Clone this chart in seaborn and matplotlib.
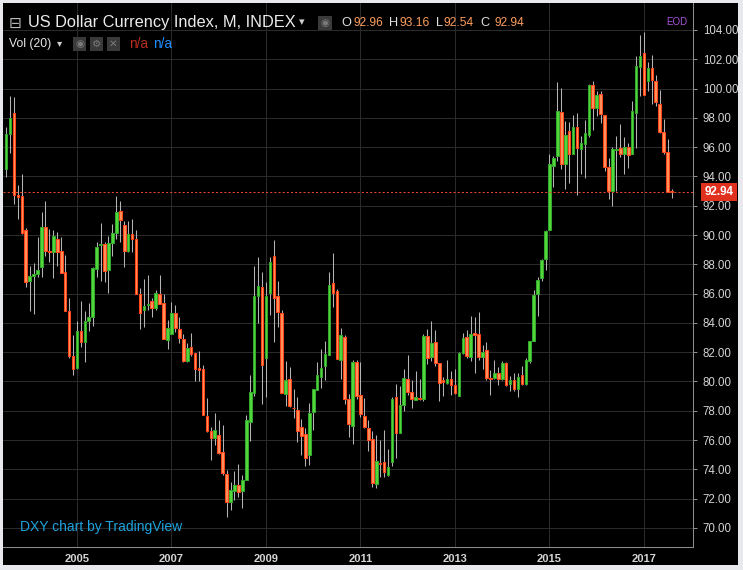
import numpy as np
import pandas as pd
import matplotlib
matplotlib.use("Agg")
import matplotlib.pyplot as plt
import matplotlib.transforms as mtransforms
from matplotlib.patches import Rectangle
import seaborn as sns

# ---------------- data (monthly DXY candles, Jul 2003 - Aug 2017) ----------------
start_month = "2003-07"
opens = [94.53, 96.87, 98.30, 92.74, 92.65, 90.33, 86.88, 87.20, 87.34, 87.79,
         90.56, 88.92, 88.81, 89.74, 88.92, 87.49, 84.84, 81.77, 80.93, 83.48,
         82.68, 84.11, 84.43, 87.65, 89.31, 89.38, 87.61, 89.45, 90.13, 91.61,
         90.71, 88.94, 90.10, 89.76, 85.95, 84.86, 85.20, 85.49, 85.04, 85.95,
         85.33, 82.82, 83.22, 84.68, 83.59, 82.88, 81.41, 82.36, 81.95, 80.91,
         80.84, 77.65, 76.65, 76.15, 76.38, 75.18, 73.70, 71.77, 72.52, 72.91,
         72.52, 73.30, 77.23, 79.20, 85.84, 86.48, 81.61, 86.02, 88.59, 85.84,
         84.70, 79.16, 80.18, 78.20, 78.07, 76.89, 76.43, 74.95, 77.91, 79.45,
         80.30, 81.05, 81.82, 86.75, 86.20, 81.48, 83.07, 78.82, 76.95, 81.36,
         79.08, 77.64, 76.83, 76.07, 73.00, 74.46, 74.48, 73.61, 74.48, 78.92,
         76.46, 78.40, 80.17, 79.28, 78.76, 78.88, 78.79, 83.11, 81.65, 82.70,
         81.27, 80.10, 79.90, 80.17, 79.76, 79.03, 81.93, 83.07, 81.65, 83.32,
         83.25, 81.64, 82.14, 80.25, 80.23, 80.61, 80.16, 81.25, 79.82, 80.09,
         79.48, 80.45, 79.82, 81.41, 82.73, 85.95, 87.09, 88.34, 90.34, 94.70,
         95.39, 98.39, 94.82, 97.09, 95.55, 97.36, 95.84, 96.23, 96.82, 100.23,
         98.68, 99.61, 98.18, 94.66, 92.98, 95.80, 95.93, 95.52, 96.02, 95.52,
         98.36, 101.50, 102.41, 100.52, 101.43, 100.52, 98.93, 97.00, 95.64, 92.96]
highs = [97.37, 99.48, 99.41, 93.42, 94.14, 90.51, 87.90, 88.06, 89.88, 91.58,
         92.33, 90.40, 90.35, 90.22, 89.83, 88.65, 85.70, 83.20, 84.11, 85.47,
         84.79, 85.38, 87.83, 89.54, 90.83, 89.49, 89.90, 90.74, 92.67, 92.29,
         90.93, 90.98, 91.12, 90.37, 86.35, 87.03, 87.30, 85.72, 86.24, 87.30,
         85.95, 84.18, 85.42, 85.20, 84.40, 83.22, 82.63, 83.32, 81.95, 82.09,
         81.14, 78.89, 76.92, 77.87, 77.40, 77.06, 73.97, 73.13, 73.86, 74.34,
         73.59, 77.68, 80.41, 87.91, 88.52, 87.50, 86.82, 88.52, 89.68, 86.89,
         84.89, 81.43, 80.98, 79.50, 78.93, 77.45, 76.84, 78.52, 79.50, 81.36,
         82.25, 82.73, 87.50, 88.75, 86.32, 83.64, 83.14, 79.16, 81.48, 81.48,
         81.36, 78.87, 77.39, 76.64, 76.37, 76.00, 76.71, 75.39, 78.92, 79.83,
         79.72, 80.86, 81.84, 80.10, 80.74, 80.17, 83.25, 83.59, 84.16, 83.54,
         81.27, 80.33, 81.47, 80.70, 80.86, 82.00, 83.32, 83.52, 84.50, 84.39,
         84.77, 82.50, 82.70, 80.77, 81.45, 81.00, 81.41, 81.30, 80.39, 80.57,
         80.57, 81.07, 81.57, 82.77, 86.23, 87.14, 88.34, 90.32, 95.50, 95.39,
         100.43, 100.05, 97.77, 97.70, 98.18, 98.34, 96.75, 97.84, 100.32, 100.50,
         99.82, 99.84, 98.18, 95.25, 96.02, 96.77, 97.57, 96.66, 96.27, 99.16,
         102.23, 103.66, 103.89, 101.84, 102.27, 100.91, 99.89, 97.91, 96.55, 93.16]
lows = [93.96, 95.62, 92.15, 91.08, 90.10, 86.43, 84.84, 84.61, 87.10, 87.10,
        88.54, 88.13, 87.04, 87.90, 87.38, 84.80, 81.59, 80.41, 80.84, 82.34,
        81.32, 83.43, 83.82, 87.15, 86.88, 86.81, 86.06, 88.58, 89.72, 89.53,
        87.83, 88.85, 88.85, 85.95, 83.61, 83.75, 84.86, 84.43, 84.86, 85.27,
        82.88, 82.25, 83.22, 83.41, 82.66, 81.30, 81.30, 81.77, 80.05, 80.00,
        77.69, 76.54, 74.65, 75.63, 75.02, 73.59, 70.75, 71.20, 71.89, 72.11,
        71.39, 73.30, 75.93, 78.98, 83.98, 78.48, 78.93, 84.55, 82.68, 83.75,
        79.20, 78.36, 78.25, 77.50, 75.86, 74.95, 74.20, 74.27, 76.66, 79.39,
        79.55, 80.07, 81.82, 85.11, 81.55, 80.14, 78.48, 76.20, 75.75, 78.82,
        77.55, 76.80, 75.28, 72.82, 72.70, 73.50, 73.45, 73.55, 74.21, 74.75,
        76.46, 78.00, 79.10, 78.17, 78.72, 78.74, 78.65, 81.20, 81.43, 81.08,
        78.65, 78.99, 79.83, 79.08, 79.15, 78.99, 81.86, 81.61, 81.38, 80.56,
        81.47, 80.84, 80.09, 79.07, 80.16, 79.77, 80.09, 79.70, 79.36, 79.36,
        78.91, 79.77, 79.77, 81.23, 82.73, 84.48, 86.86, 87.59, 90.34, 93.27,
        95.05, 94.48, 93.16, 93.57, 95.50, 92.70, 94.14, 93.86, 96.68, 97.20,
        98.11, 97.68, 94.34, 92.45, 91.95, 93.02, 95.36, 94.16, 94.55, 95.52,
        95.91, 99.50, 99.55, 99.84, 98.93, 98.82, 96.95, 95.52, 92.95, 92.54]
closes = [96.87, 97.96, 92.71, 92.62, 90.15, 86.77, 87.20, 87.34, 87.61, 90.56,
          88.88, 88.81, 89.95, 88.81, 87.38, 84.84, 81.77, 80.84, 83.48, 82.68,
          84.16, 84.43, 87.74, 89.20, 89.38, 87.56, 89.45, 90.13, 91.58, 91.02,
          88.94, 90.10, 89.76, 85.95, 84.70, 85.15, 85.27, 85.04, 86.01, 85.27,
          82.88, 83.66, 84.68, 83.63, 82.95, 81.37, 82.27, 81.86, 80.82, 80.78,
          77.69, 76.60, 76.15, 76.69, 75.11, 73.75, 71.77, 72.57, 72.91, 72.45,
          73.30, 77.34, 79.27, 85.84, 86.52, 81.11, 85.84, 88.18, 85.70, 84.73,
          79.20, 80.11, 78.32, 78.16, 76.61, 76.27, 74.80, 77.86, 79.50, 80.41,
          80.91, 81.89, 86.61, 86.05, 81.55, 83.20, 78.82, 77.07, 81.36, 79.00,
          77.78, 76.87, 76.00, 73.04, 74.57, 74.34, 73.80, 74.14, 78.81, 76.46,
          78.40, 80.24, 79.26, 78.81, 78.94, 78.79, 83.11, 81.59, 82.63, 81.24,
          79.90, 79.97, 80.17, 79.74, 79.22, 81.95, 82.95, 81.72, 83.25, 83.18,
          81.65, 82.02, 80.23, 80.20, 80.61, 80.16, 81.25, 79.77, 80.09, 79.48,
          80.34, 79.82, 81.48, 82.77, 85.89, 86.91, 88.27, 90.27, 94.82, 95.23,
          98.45, 94.82, 96.86, 95.55, 97.36, 95.95, 96.30, 96.98, 100.23, 98.64,
          99.55, 98.25, 94.61, 92.98, 95.86, 95.86, 95.52, 95.98, 95.45, 98.48,
          101.55, 102.23, 99.55, 101.43, 100.57, 99.05, 97.00, 95.64, 92.95, 92.94]
year_labels = ["2005", "2007", "2009", "2011", "2013", "2015", "2017"]
price_ticks = list(range(70, 106, 2))
last_price = closes[-1]

df = pd.DataFrame({"date": pd.date_range(start_month, periods=len(opens), freq="MS"),
                   "open": opens, "high": highs, "low": lows, "close": closes})
df["i"] = np.arange(len(df))
df["up"] = df["close"] >= df["open"]
df["bottom"] = df[["open", "close"]].min(axis=1)
df["height"] = (df["close"] - df["open"]).abs().clip(lower=0.06)

# ---------------- style ----------------
sns.set_theme(style="dark", rc={"axes.facecolor": "black", "figure.facecolor": "#e7e9ec"})
plt.rcParams["font.family"] = ["Liberation Sans", "DejaVu Sans"]

W, H = 743, 570
fig = plt.figure(figsize=(W / 100, H / 100), dpi=100)
fig.patches.append(Rectangle((3 / W, 5 / H), 735 / W, 562 / H, transform=fig.transFigure,
                             facecolor="black", edgecolor="none", zorder=-5))

ax_l, ax_r, ax_t, ax_b = 3, 693, 3, 546.7
ax = fig.add_axes([ax_l / W, 1 - ax_b / H, (ax_r - ax_l) / W, (ax_b - ax_t) / H])
ax.set_facecolor("black")

UP_FILL, UP_EDGE = "#52d83c", "#34a82c"
DN_FILL, DN_EDGE = "#ff915c", "#ff4518"
WICK = "#b4b4b4"

ax.vlines(df["i"], df["low"], df["high"], color=WICK, linewidth=0.75, zorder=2)
for up, fill, edge in [(True, UP_FILL, UP_EDGE), (False, DN_FILL, DN_EDGE)]:
    d = df[df["up"] == up]
    ax.bar(d["i"], d["height"], bottom=d["bottom"], width=0.66, color=fill,
           edgecolor=edge, linewidth=0.75, zorder=3)

ax.axhline(last_price, color="#e5452a", linewidth=0.75, linestyle=(0, (2, 2)), zorder=4)

ax.set_xlim(-0.79, 174.45)
ax.set_ylim(68.72, 105.84)

jan_idx = [int(df.index[(df["date"].dt.year == int(y)) & (df["date"].dt.month == 1)][0])
           for y in year_labels]
ax.set_xticks(jan_idx)
ax.set_xticklabels(year_labels, fontsize=8.0, fontweight="bold", color="#d4d4d4")
ax.set_yticks(price_ticks)
ax.set_yticklabels([f"{v:.2f}" for v in price_ticks], fontsize=8.3, color="#d4d4d4")
ax.yaxis.tick_right()
ax.tick_params(axis="y", length=3, width=0.75, color="#8c8c8c", pad=4, right=True, left=False)
ax.tick_params(axis="x", length=0, pad=5.5, bottom=True)
ax.grid(True, color="#2b2b2b", linewidth=0.75)
ax.set_axisbelow(True)
for s in ["top", "left"]:
    ax.spines[s].set_visible(False)
for s in ["right", "bottom"]:
    ax.spines[s].set_visible(True)
    ax.spines[s].set_color("#8c8c8c")
    ax.spines[s].set_linewidth(0.75)

# last price tag
blend = mtransforms.blended_transform_factory(fig.transFigure, ax.transData)
ax.text(719 / W, last_price, f"{last_price:.2f}", transform=blend, ha="center", va="center",
        fontsize=8.4, fontweight="bold", color="white", zorder=6, clip_on=False,
        bbox=dict(boxstyle="square,pad=0.26", facecolor="#e0301e", edgecolor="none"))

# ---------------- header texts ----------------
renderer = fig.canvas.get_renderer()


def ptext(x, y, s, color, width=None, size=9.0, **kw):
    t = fig.text(x / W, 1 - y / H, s, color=color, fontsize=size, ha="left", va="center", **kw)
    if width:
        bb = t.get_window_extent(renderer)
        t.set_fontsize(size * width / bb.width)
    return t


def icon_box(x0, x1, y0, y1, glyph):
    fig.patches.append(Rectangle((x0 / W, 1 - y1 / H), (x1 - x0) / W, (y1 - y0) / H,
                                 transform=fig.transFigure, facecolor="#3a3a3a",
                                 edgecolor="none", zorder=5))
    fig.text((x0 + x1) / 2 / W, 1 - (y0 + y1) / 2 / H, glyph, color="#7a7a7a", fontsize=7.5,
             ha="center", va="center", family=["DejaVu Sans"], zorder=6)


ptext(9, 23, "\u229f", "#b8b8b8", width=13, family=["DejaVu Sans"])
ptext(28, 23, "US Dollar Currency Index, M, INDEX", "#ececec", width=268)
ptext(299, 22, "\u25be", "#cfcfcf", size=8, family=["DejaVu Sans"])
icon_box(318, 332, 16, 30, "\u25c9")
ohlc_x = [(341, "O", "#e0e0e0"), (353, "92.96", "#ff9d5c"), (389, "H", "#e0e0e0"),
          (400, "93.16", "#ff9d5c"), (436, "L", "#e0e0e0"), (443, "92.54", "#ff9d5c"),
          (480, "C", "#e0e0e0"), (494, "92.94", "#ff9d5c")]
for x, s, c in ohlc_x:
    if s[0].isdigit():
        ptext(x, 23, s, c, width=30)
    else:
        ptext(x, 23, s, c, size=9.2)
ptext(666, 22, "EOD", "#a855d8", width=21)

ptext(9, 44, "Vol (20)", "#e6e6e6", width=42)
ptext(57, 43, "\u25be", "#cfcfcf", size=7.5, family=["DejaVu Sans"])
icon_box(73, 86, 37, 51, "\u25c9")
icon_box(90, 103, 37, 51, "\u2699")
icon_box(107, 120, 37, 51, "\u2715")
ptext(129, 44, "n/a", "#b8301c", width=19)
ptext(153, 44, "n/a", "#1e8fff", width=19)

ptext(20, 527, "DXY chart by TradingView", "#1ea3de", width=163)

fig.savefig("out.png", dpi=100, facecolor=fig.get_facecolor())
